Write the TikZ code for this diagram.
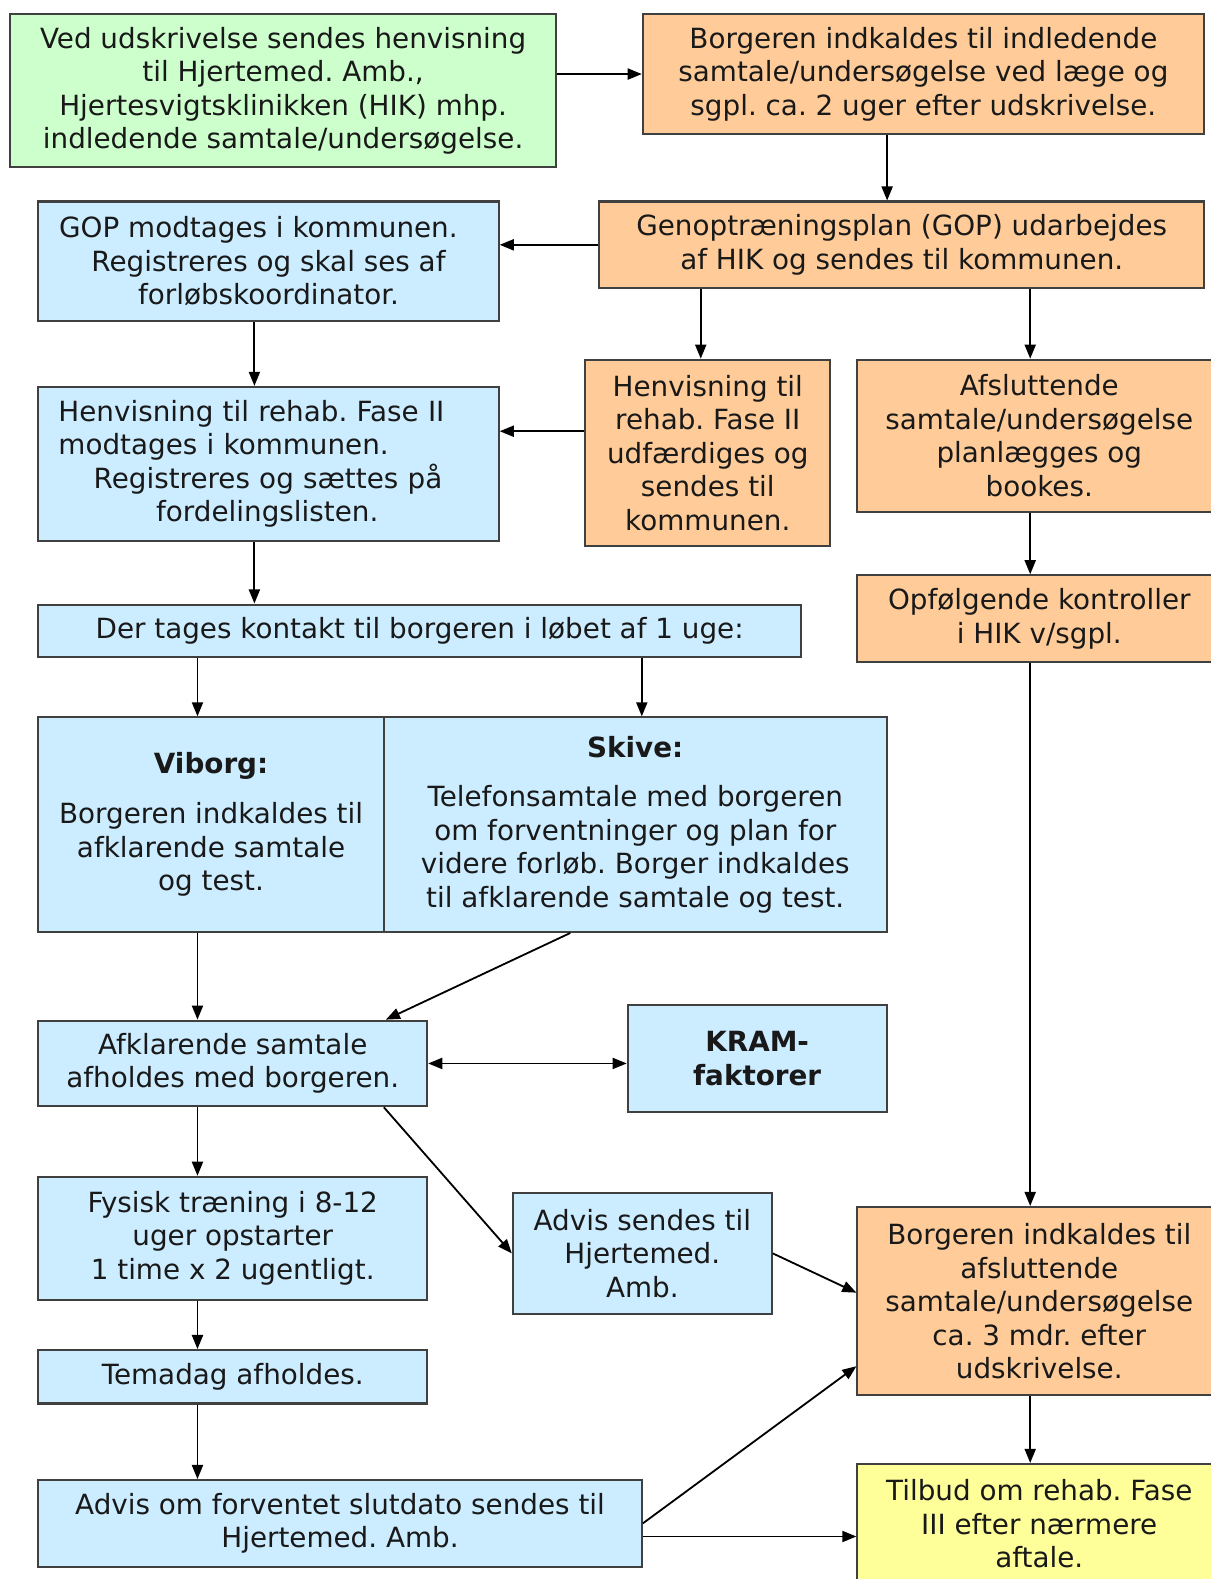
\documentclass[tikz,border=0pt]{standalone}
\usepackage{fontspec}
\setmainfont{DejaVu Sans}
\usetikzlibrary{arrows.meta}
\frenchspacing

\definecolor{boxgreen}{HTML}{CCFFCC}
\definecolor{boxorange}{HTML}{FFCC99}
\definecolor{boxblue}{HTML}{CCECFF}
\definecolor{boxyellow}{HTML}{FFFF99}

\begin{document}
\begin{tikzpicture}[x=1pt,y=-1pt,
  box/.style={draw=black!75,line width=2pt,rectangle,align=center,inner sep=0pt,
    font=\fontsize{27.6}{33.3}\selectfont,text=black!90},
  hospital/.style={box,fill=boxorange},
  kommune/.style={box,fill=boxblue},
  arr/.style={line width=1.8pt,-{Triangle[length=14pt,width=11pt]}}]
  \useasboundingbox (0,0) rectangle (1201,1567.2);
  \node[box,fill=boxgreen,minimum width=542,minimum height=152] (ved) at (281,90) {Ved udskrivelse sendes henvisning\\ til Hjertemed. Amb.,\\ Hjertesvigtsklinikken (HIK) mhp.\\ indledende samtale/undersøgelse.};
  \node[hospital,minimum width=557,minimum height=119] (indkald) at (916.5,73.5) {Borgeren indkaldes til indledende\\ samtale/undersøgelse ved læge og\\ sgpl. ca. 2 uger efter udskrivelse.};
  \node[kommune,minimum width=457,minimum height=119] (gop) at (266.5,259.5) {GOP modtages i kommunen.\hspace*{20pt}\\ Registreres og skal ses af\\ forløbskoordinator.};
  \node[hospital,minimum width=600,minimum height=86] (plan) at (895,243) {Genoptræningsplan (GOP) udarbejdes\\ af HIK og sendes til kommunen.};
  \node[hospital,minimum width=243,minimum height=185] (henv) at (702.5,449.5) {Henvisning til\\ rehab. Fase II\\ udfærdiges og\\ sendes til\\ kommunen.};
  \node[hospital,minimum width=361,minimum height=151] (afsl) at (1031.5,432.5) {Afsluttende\\ samtale/undersøgelse\\ planlægges og\\ bookes.};
  \node[kommune,minimum width=457,minimum height=153,text width=417pt,align=left] (modt) at (266.5,460.5) {Henvisning til rehab. Fase II\\ modtages i kommunen.\\ \hspace*{35pt}Registreres og sættes på\\ \hspace*{97pt}fordelingslisten.};
  \node[hospital,minimum width=361,minimum height=86] (opf) at (1031.5,614) {Opfølgende kontroller\\ i HIK v/sgpl.};
  \node[kommune,minimum width=757,minimum height=52] (kontakt) at (416.5,626) {Der tages kontakt til borgeren i løbet af 1 uge:};
  \node[kommune,minimum width=343,minimum height=213] (viborg) at (209.5,818.5) {\textbf{Viborg:}\\[16pt] Borgeren indkaldes til\\ afklarende samtale\\ og test.};
  \node[kommune,minimum width=499,minimum height=213] (skive) at (630.5,818.5) {\textbf{Skive:}\\[16pt] Telefonsamtale med borgeren\\ om forventninger og plan for\\ videre forløb. Borger indkaldes\\ til afklarende samtale og test.};
  \node[kommune,minimum width=386,minimum height=85] (afkl) at (231,1055.5) {Afklarende samtale\\ afholdes med borgeren.};
  \node[kommune,minimum width=257,minimum height=107] (kram) at (751.5,1050.5) {\textbf{KRAM-}\\ \textbf{faktorer}};
  \node[kommune,minimum width=386,minimum height=122] (fysisk) at (231,1229) {Fysisk træning i 8-12\\ uger opstarter\\ 1 time x 2 ugentligt.};
  \node[kommune,minimum width=257,minimum height=120] (advis) at (637.5,1244) {Advis sendes til\\ Hjertemed.\\ Amb.};
  \node[hospital,minimum width=361,minimum height=187] (borger) at (1031.5,1291.5) {Borgeren indkaldes til\\ afsluttende\\ samtale/undersøgelse\\ ca. 3 mdr. efter\\ udskrivelse.};
  \node[kommune,minimum width=386,minimum height=53] (tema) at (231,1366.5) {Temadag afholdes.};
  \node[kommune,minimum width=599,minimum height=86] (slut) at (337.5,1512) {Advis om forventet slutdato sendes til\\ Hjertemed. Amb.};
  \node[box,fill=boxyellow,minimum width=361,minimum height=147] (tilbud) at (1031.5,1526.5) {\raisebox{10.5pt}[\height][\depth]{\begin{tabular}{@{}c@{}}Tilbud om rehab. Fase\\ III efter nærmere\\ aftale.\end{tabular}}};
  \draw[arr] (ved.east |- indkald.west) -- (indkald.west);
  \draw[arr] ([xshift=-36pt]indkald.south) -- ([xshift=-36pt]indkald.south |- plan.north);
  \draw[arr] (plan.west) -- (plan.west -| gop.east);
  \draw[arr] ([xshift=-7pt]henv.north |- plan.south) -- ([xshift=-7pt]henv.north);
  \draw[arr] ([xshift=-9pt]afsl.north |- plan.south) -- ([xshift=-9pt]afsl.north);
  \draw[arr] ([xshift=-14pt]gop.south) -- ([xshift=-14pt]gop.south |- modt.north);
  \draw[arr] ([yshift=21.5pt]henv.west) -- ([yshift=21.5pt]henv.west -| modt.east);
  \draw[arr] ([xshift=-9pt]afsl.south) -- ([xshift=-9pt]opf.north);
  \draw[arr] ([xshift=-14pt]modt.south) -- ([xshift=-14pt]modt.south |- kontakt.north);
  \draw[arr] ([xshift=-9pt]opf.south) -- ([xshift=-9pt]borger.north);
  \draw[arr] ([xshift=-13.5pt]viborg.north |- kontakt.south) -- ([xshift=-13.5pt]viborg.north);
  \draw[arr] ([xshift=6.5pt]skive.north |- kontakt.south) -- ([xshift=6.5pt]skive.north);
  \draw[arr] ([xshift=-13.5pt]viborg.south) -- ([xshift=-13.5pt]viborg.south |- afkl.north);
  \draw[arr] ([xshift=-64.5pt]skive.south) -- ([xshift=152pt]afkl.north);
  \draw[{Triangle[length=14pt,width=11pt]}-{Triangle[length=14pt,width=11pt]},line width=1.8pt] (afkl.east) -- (afkl.east -| kram.west);
  \draw[arr] ([xshift=-35pt]afkl.south) -- ([xshift=-35pt]afkl.south |- fysisk.north);
  \draw[arr] ([xshift=150pt]afkl.south) -- (advis.west);
  \draw[arr] (advis.east) -- ([yshift=8.5pt]borger.west);
  \draw[arr] ([xshift=-35pt]fysisk.south) -- ([xshift=-35pt]tema.north);
  \draw[arr] ([xshift=-35pt]tema.south) -- ([xshift=-35pt]tema.south |- slut.north);
  \draw[arr] (slut.east) -- ([yshift=-64.5pt]borger.west);
  \draw[arr] ([yshift=-13pt]slut.east) -- ([yshift=-13pt]slut.east -| tilbud.west);
  \draw[arr] ([xshift=-9pt]borger.south) -- ([xshift=-9pt]tilbud.north);
\end{tikzpicture}
\end{document}
